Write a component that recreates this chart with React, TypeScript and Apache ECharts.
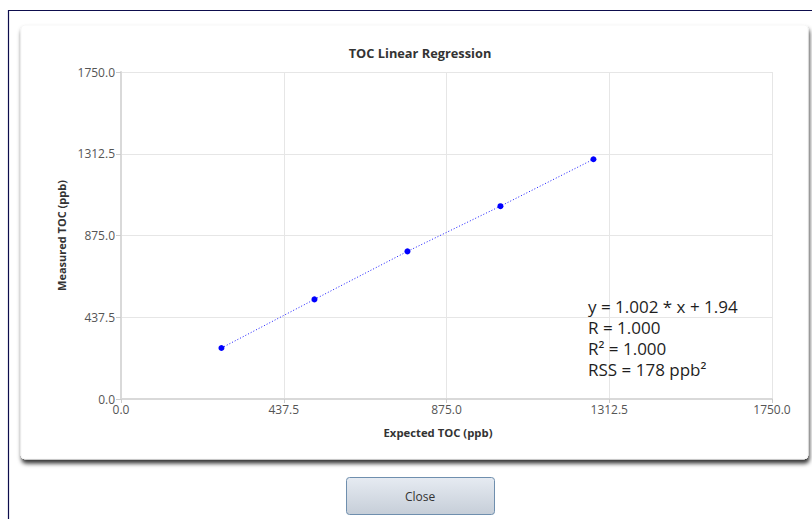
import React, { useEffect, useRef } from "react";
import * as echarts from "echarts";

const chartTitle = "TOC Linear Regression";
const xAxisName = "Expected TOC (ppb)";
const yAxisName = "Measured TOC (ppb)";
const expectedToc = [270, 520, 770, 1020, 1270];
const measuredToc = [273, 533, 790, 1032, 1283];
const axisMin = 0;
const axisMax = 1750;
const axisStep = 437.5;
const statLines = ["y = 1.002 * x + 1.94", "R = 1.000", "R\u00b2 = 1.000", "RSS = 178 ppb\u00b2"];
const buttonLabel = "Close";

const FONT = "'Open Sans', 'Noto Sans', sans-serif";

export default function App() {
  const ref = useRef<HTMLDivElement>(null);
  useEffect(() => {
    document.body.style.margin = "0";
    if (!ref.current) return;
    const chart = echarts.init(ref.current, undefined, { renderer: "svg" });
    const points = expectedToc.map((x, i) => [x, measuredToc[i]]);
    const option: any = {
      animation: false,
      backgroundColor: "#ffffff",
      textStyle: { fontFamily: FONT },
      grid: { left: 121, right: 40, top: 72, bottom: 120, containLabel: false },
      xAxis: {
        type: "value",
        min: axisMin,
        max: axisMax,
        interval: axisStep,
        axisLine: { show: true, lineStyle: { color: "#d9d9d9", width: 2 } },
        axisTick: { show: true, length: 4, lineStyle: { color: "#cccccc" } },
        axisLabel: {
          fontFamily: FONT,
          fontSize: 12,
          color: "#555",
          margin: 4,
          formatter: (v: number) => v.toFixed(1),
        },
        splitLine: { show: true, lineStyle: { color: "#e6e6e6", width: 1 } },
      },
      yAxis: {
        type: "value",
        min: axisMin,
        max: axisMax,
        interval: axisStep,
        name: yAxisName,
        nameLocation: "middle",
        nameGap: 54,
        nameTextStyle: { fontFamily: FONT, fontSize: 11, fontWeight: "bold", color: "#333" },
        axisLine: { show: true, lineStyle: { color: "#d9d9d9", width: 2 } },
        axisTick: { show: true, length: 5, lineStyle: { color: "#cccccc" } },
        axisLabel: {
          fontFamily: FONT,
          fontSize: 12,
          color: "#555",
          margin: 6,
          formatter: (v: number) => v.toFixed(1),
        },
        splitLine: { show: true, lineStyle: { color: "#e6e6e6", width: 1 } },
      },
      series: [
        {
          type: "line",
          data: points,
          showSymbol: true,
          symbol: "circle",
          symbolSize: 6,
          itemStyle: { color: "#0000ff" },
          lineStyle: { color: "#1a1aff", width: 1, type: [1, 2] },
          z: 5,
        },
      ],
      graphic: [
        {
          type: "rect",
          z: -20,
          shape: { x: 8.5, y: 10.5, width: 900, height: 600 },
          style: { fill: "#ffffff", stroke: "#0d0d4d", lineWidth: 1.2 },
        },
        {
          type: "rect",
          z: -10,
          shape: { x: 21, y: 25, width: 787, height: 434, r: 4 },
          style: {
            fill: "#ffffff",
            stroke: "#f7f7f7",
            lineWidth: 1,
            shadowBlur: 4,
            shadowOffsetY: 4,
            shadowOffsetX: 1,
            shadowColor: "rgba(0,0,0,0.8)",
          },
        },
        {
          type: "text",
          z: 10,
          x: 420,
          y: 53,
          style: {
            text: chartTitle,
            fontFamily: FONT,
            fontSize: 12.8,
            fontWeight: "bold",
            fill: "#333",
            align: "center",
            verticalAlign: "middle",
          },
        },
        {
          type: "text",
          z: 10,
          x: 438,
          y: 432,
          style: {
            text: xAxisName,
            fontFamily: FONT,
            fontSize: 11.3,
            fontWeight: "bold",
            fill: "#333",
            align: "center",
            verticalAlign: "middle",
          },
        },
        ...statLines.map((t, i) => ({
          type: "text",
          z: 10,
          x: 588,
          y: 306 + i * 21,
          style: {
            text: t,
            fontFamily: FONT,
            fontSize: 17,
            fill: "#1e1e1e",
            align: "left",
            verticalAlign: "middle",
          },
        })),
        {
          type: "rect",
          z: 10,
          shape: { x: 346.5, y: 477.5, width: 148, height: 37, r: 3 },
          style: {
            fill: new echarts.graphic.LinearGradient(0, 0, 0, 1, [
              { offset: 0, color: "#e6ebf2" },
              { offset: 1, color: "#c6ced8" },
            ]),
            stroke: "#6f8fae",
            lineWidth: 1,
          },
        },
        {
          type: "text",
          z: 11,
          x: 420,
          y: 496,
          style: {
            text: buttonLabel,
            fontFamily: FONT,
            fontSize: 12,
            fill: "#333",
            align: "center",
            verticalAlign: "middle",
          },
        },
      ],
    };
    chart.setOption(option);
    return () => chart.dispose();
  }, []);
  return (
    <div
      ref={ref}
      style={{ position: "fixed", left: 0, top: 0, width: 812, height: 519 }}
    />
  );
}
